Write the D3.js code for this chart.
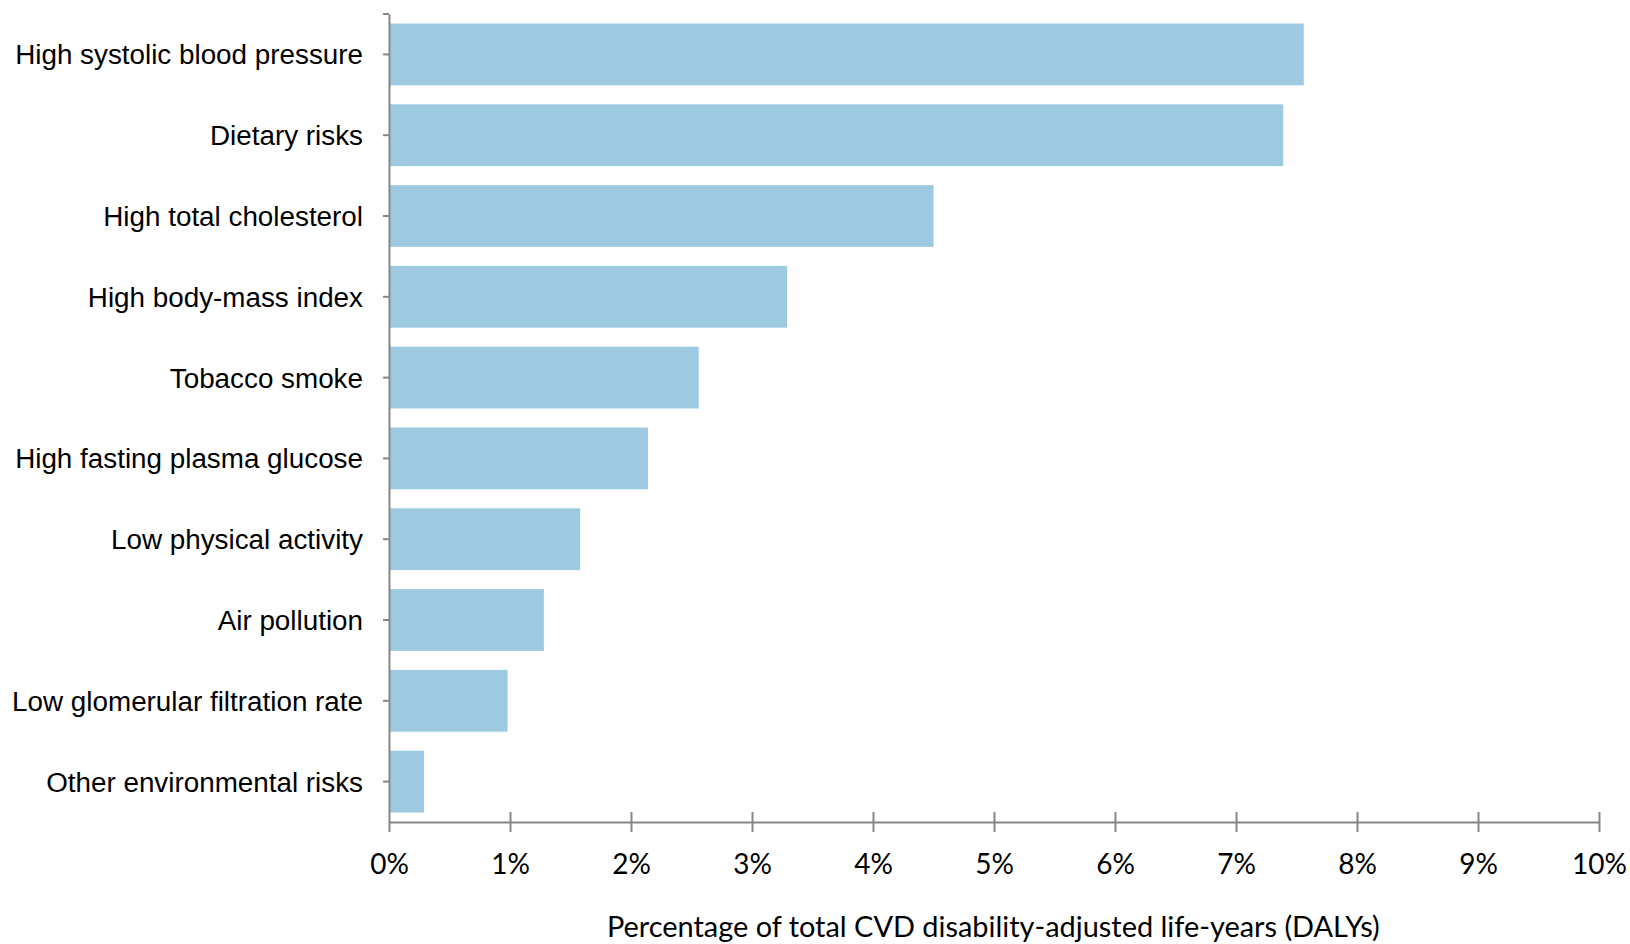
<!DOCTYPE html>
<html>
<head>
<meta charset="utf-8">
<script src="https://cdn.jsdelivr.net/npm/d3@7/dist/d3.min.js"></script>
<style>
  html, body { margin: 0; padding: 0; background: #fff; }
  svg { display: block; }
</style>
</head>
<body>
<svg id="chart" width="1630" height="944"></svg>
<script>
const categories = [
  "High systolic blood pressure",
  "Dietary risks",
  "High total cholesterol",
  "High body-mass index",
  "Tobacco smoke",
  "High fasting plasma glucose",
  "Low physical activity",
  "Air pollution",
  "Low glomerular filtration rate",
  "Other environmental risks"
];
const values = [7.56, 7.39, 4.50, 3.29, 2.56, 2.14, 1.58, 1.28, 0.98, 0.29];
const xTicks = [0, 1, 2, 3, 4, 5, 6, 7, 8, 9, 10];
const xTitle = "Percentage of total CVD disability-adjusted life-years (DALYs)";

const svg = d3.select("#chart");
const plotL = 389, plotR = 1599, plotT = 14, plotB = 822;
const axisColor = "#868686";
const barColor = "#9ecae1";

const x = d3.scaleLinear().domain([0, 10]).range([plotL, plotR]);
const y = d3.scaleBand().domain(categories).range([plotT, plotB]).paddingInner(0.235).paddingOuter(0.1175);

// bars
svg.append("g").selectAll("rect")
  .data(categories)
  .join("rect")
  .attr("x", x(0))
  .attr("y", d => y(d))
  .attr("width", (d, i) => x(values[i]) - x(0))
  .attr("height", y.bandwidth())
  .attr("fill", barColor);

// x axis
const xAxis = d3.axisBottom(x).tickValues(xTicks).tickFormat(d => d + "%").tickSize(10).tickSizeOuter(0);
const gx = svg.append("g").attr("transform", `translate(0,${plotB})`).call(xAxis);
gx.select(".domain").attr("stroke", axisColor).attr("stroke-width", 2);
gx.selectAll(".tick line").attr("stroke", axisColor).attr("stroke-width", 2).attr("y1", -10).attr("y2", 10);
gx.select(".tick line").attr("y1", 0);
gx.selectAll(".tick text")
  .attr("fill", "#000")
  .attr("font-family", "Lato, 'Open Sans', sans-serif")
  .attr("font-size", 28)
  .attr("y", 0)
  .attr("dy", 0)
  .attr("transform", "translate(0,52)");

// y axis
const yAxis = d3.axisLeft(y).tickSize(6).tickSizeOuter(0).tickPadding(20);
const gy = svg.append("g").attr("transform", `translate(${plotL},0)`).call(yAxis);
gy.select(".domain").attr("stroke", axisColor).attr("stroke-width", 2);
gy.selectAll(".tick line").attr("stroke", axisColor).attr("stroke-width", 2);
const yLabels = gy.selectAll(".tick text")
  .attr("fill", "#000")
  .attr("font-family", "'Liberation Sans', Arial, sans-serif")
  .attr("font-size", 25)
  .attr("dy", "0.36em");
// fit label size so the longest label spans the same width as in the reference
const firstW = yLabels.nodes()[0].getComputedTextLength();
yLabels.attr("font-size", 25 * 348 / firstW);
// top end tick on the category axis
gy.append("line")
  .attr("x1", -6).attr("x2", 0)
  .attr("y1", y.range()[0]).attr("y2", y.range()[0])
  .attr("stroke", axisColor).attr("stroke-width", 2);

// x axis title
const title = svg.append("text")
  .attr("x", (606.7 + 1380) / 2)
  .attr("y", 937)
  .attr("text-anchor", "middle")
  .attr("font-family", "Lato, 'Open Sans', sans-serif")
  .attr("font-size", 25)
  .attr("fill", "#000")
  .text(xTitle);
const tw = title.node().getComputedTextLength();
title.attr("font-size", 25 * 773 / tw);
</script>
</body>
</html>
